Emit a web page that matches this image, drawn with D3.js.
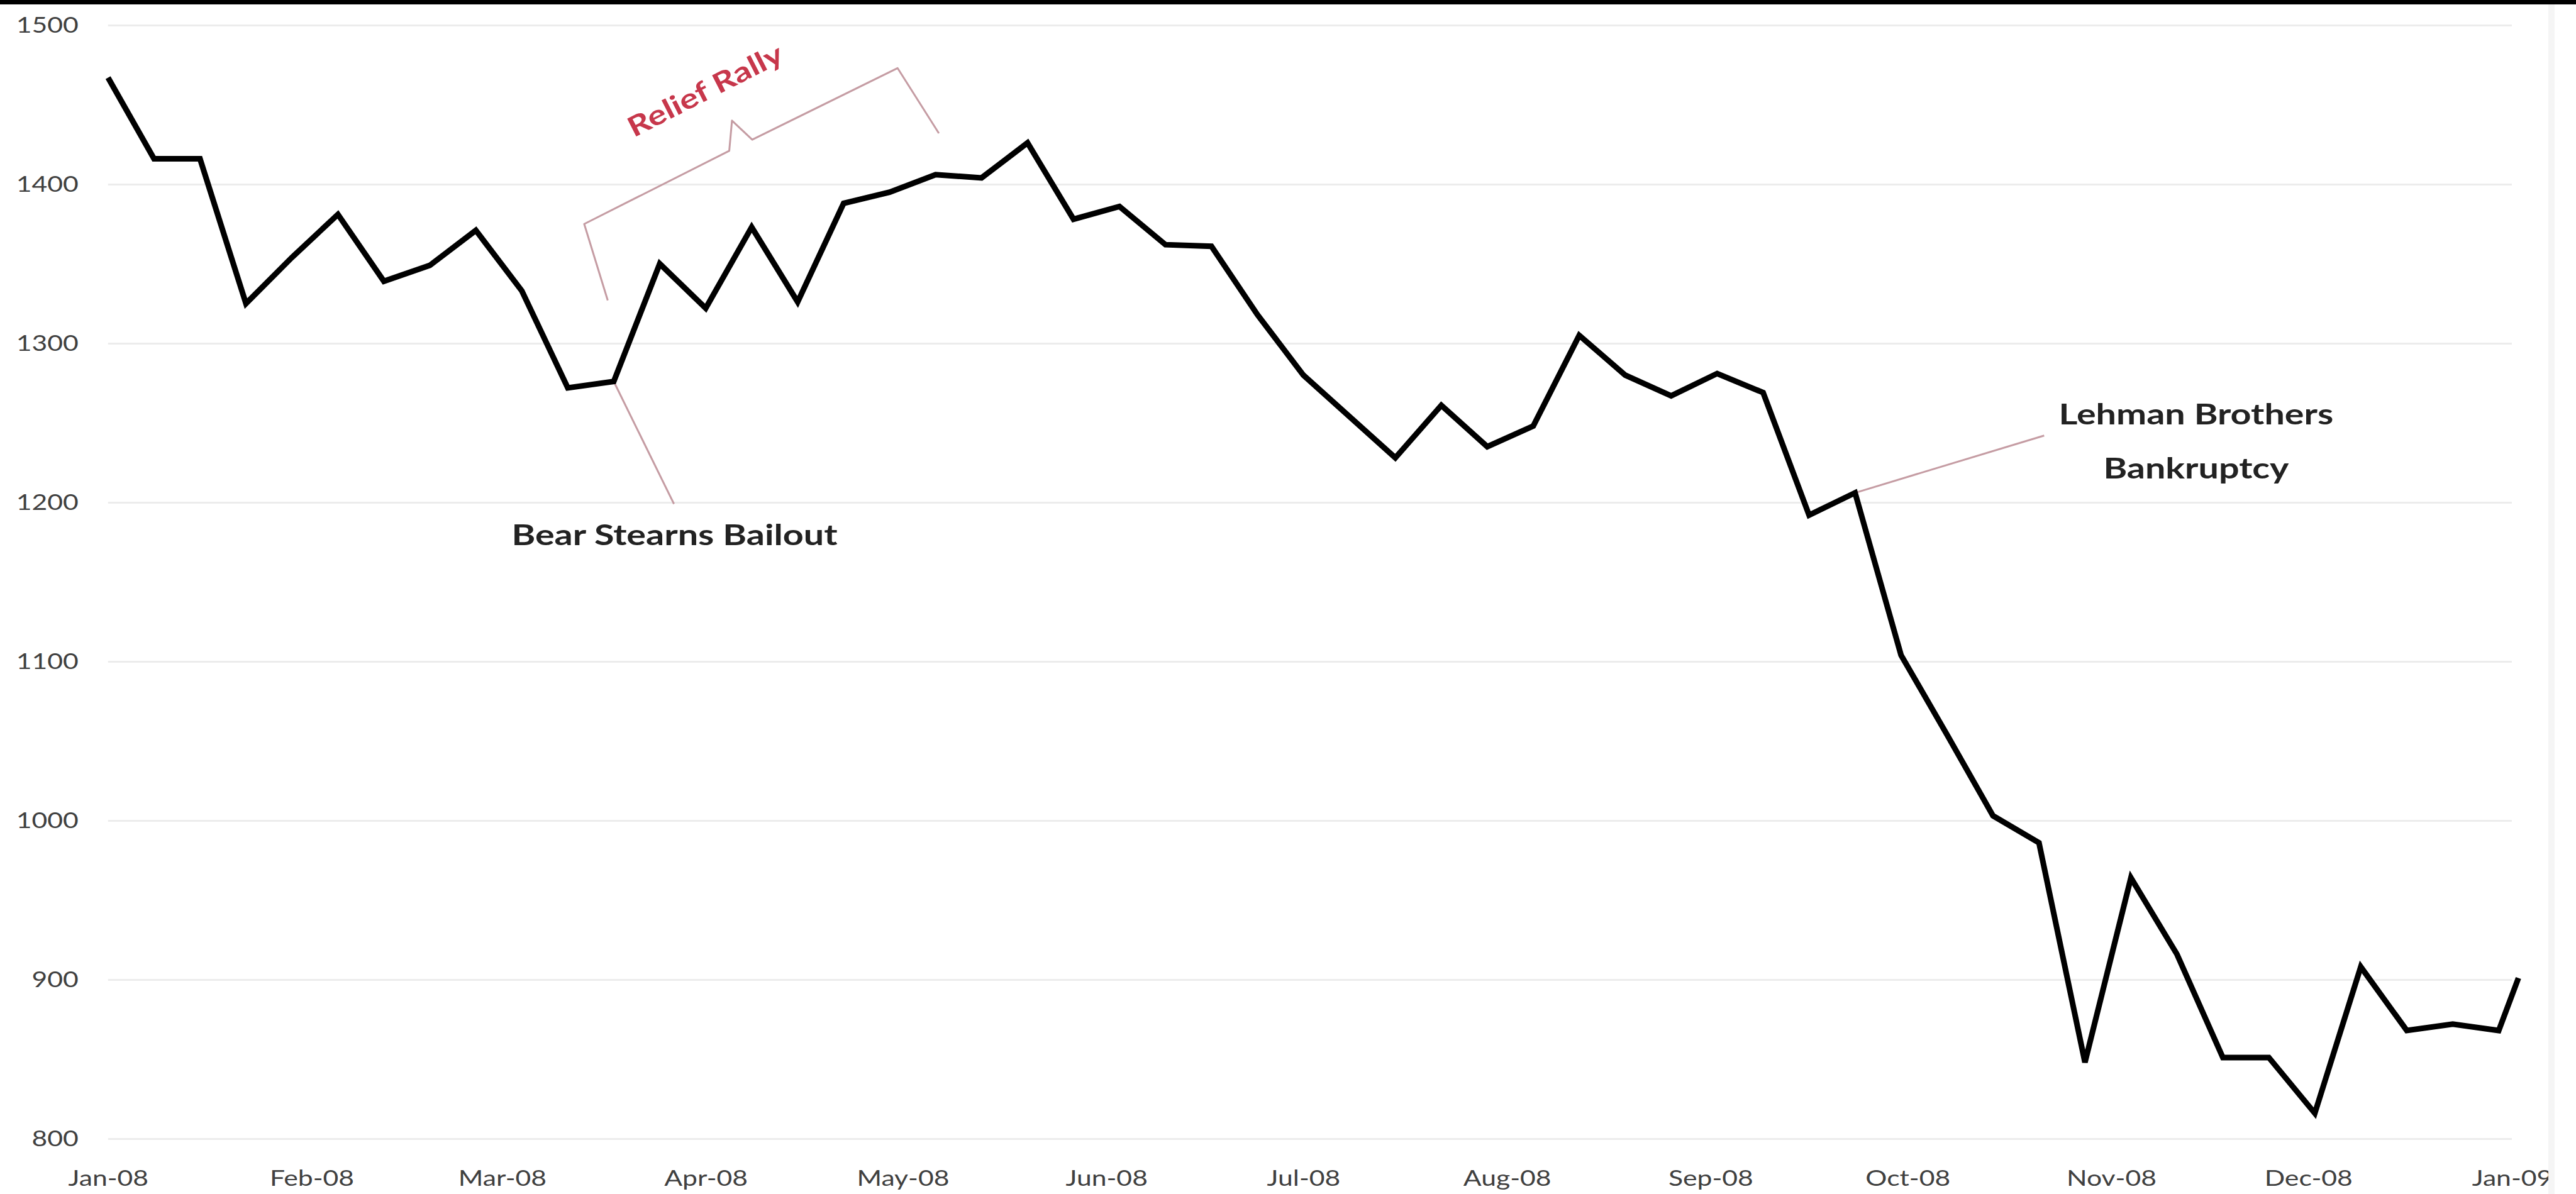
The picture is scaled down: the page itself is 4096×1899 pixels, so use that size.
<!DOCTYPE html>
<html>
<head>
<meta charset="utf-8">
<script src="https://cdn.jsdelivr.net/npm/d3@7"></script>
<style>
  html, body { margin: 0; padding: 0; background: #fff; overflow: hidden; }
  svg { display: block; }
</style>
</head>
<body>
<div id="chart"></div>
<script>
// weekly closes
const weeks = [
  "2008-01-01", "2008-01-08", "2008-01-15", "2008-01-22", "2008-01-29",
  "2008-02-05", "2008-02-12", "2008-02-19", "2008-02-26",
  "2008-03-04", "2008-03-11", "2008-03-18", "2008-03-25",
  "2008-04-01", "2008-04-08", "2008-04-15", "2008-04-22", "2008-04-29",
  "2008-05-06", "2008-05-13", "2008-05-20", "2008-05-27",
  "2008-06-03", "2008-06-10", "2008-06-17", "2008-06-24",
  "2008-07-01", "2008-07-08", "2008-07-15", "2008-07-22", "2008-07-29",
  "2008-08-05", "2008-08-12", "2008-08-19", "2008-08-26",
  "2008-09-02", "2008-09-09", "2008-09-16", "2008-09-23", "2008-09-30",
  "2008-10-07", "2008-10-14", "2008-10-21", "2008-10-28",
  "2008-11-04", "2008-11-11", "2008-11-18", "2008-11-25",
  "2008-12-02", "2008-12-09", "2008-12-16", "2008-12-23", "2008-12-30",
  "2009-01-02"
];
const closes = [
  1467, 1416, 1416, 1325, 1354,
  1381, 1339, 1349, 1371,
  1333, 1272, 1276, 1350,
  1322, 1373, 1326, 1388, 1395,
  1406, 1404, 1426, 1378,
  1386, 1362, 1361, 1318,
  1280, 1254, 1228, 1261, 1235,
  1248, 1305, 1280, 1267,
  1281, 1269, 1192, 1206, 1104,
  1054, 1003, 986, 848,
  964, 916, 851, 851,
  816, 908, 868, 872, 868,
  901
];

const yTicks = [800, 900, 1000, 1100, 1200, 1300, 1400, 1500];
const monthTicks = [
  "2008-01-01", "2008-02-01", "2008-03-01", "2008-04-01", "2008-05-01", "2008-06-01",
  "2008-07-01", "2008-08-01", "2008-09-01", "2008-10-01", "2008-11-01", "2008-12-01",
  "2009-01-01"
];

// annotations, in (date, value) space
const bearLeader = [["2008-03-18T00", 1276], ["2008-03-27T04", 1199]];
const bearLabel = ["2008-03-27T06", 1173, "Bear Stearns Bailout"];
const lehmanLeader = [["2008-09-23T00", 1206], ["2008-10-21T19", 1242]];
const lehmanLabel = ["2008-11-13T22", 1249, 1215, "Lehman Brothers", "Bankruptcy"];
const reliefBrace = [
  ["2008-03-17T02", 1327], ["2008-03-13T12", 1375], ["2008-04-04T14", 1421],
  ["2008-04-05T00", 1440], ["2008-04-08T02", 1428], ["2008-04-30T05", 1473],
  ["2008-05-06T12", 1432]
];
const reliefLabel = ["2008-03-31T22", 1459, "Relief Rally"];

// Set dimensions
const width = 4096;
const height = 1899;

const X_LEFT = 171.8;
const X_RIGHT = 3994;
const Y_TOP = 40;
const Y_BOTTOM = 1811;

const FONT = "Lato, 'Open Sans', 'DejaVu Sans', sans-serif";
const AXIS_STRETCH = 1.22; // the picture's text is stretched sideways
const NOTE_STRETCH = 1.25;
const AXIS_COLOR = "#404040";
const GRID_COLOR = "#ececec";
const NOTE_LINE = "#c59ca3";
const NOTE_RED = "#c7374b";

const parseDay = d3.timeParse("%Y-%m-%d");
const parseHour = d3.timeParse("%Y-%m-%dT%H");
const toDate = (s) => parseDay(s) || parseHour(s);

const series = weeks.map((w, i) => ({ date: toDate(w), value: closes[i] }));

const svg = d3
  .select("#chart")
  .append("svg")
  .attr("width", width)
  .attr("height", height);

svg.append("rect")
  .attr("width", width)
  .attr("height", height)
  .attr("fill", "#fff");

const x = d3
  .scaleTime()
  .domain([toDate("2008-01-01"), toDate("2009-01-01")])
  .range([X_LEFT, X_RIGHT]);

const y = d3
  .scaleLinear()
  .domain([800, 1500])
  .range([Y_BOTTOM, Y_TOP]);

const px = (p) => [x(toDate(p[0])), y(p[1])];

// gridlines
svg.append("g")
  .attr("class", "grid")
  .attr("transform", `translate(${X_LEFT},0)`)
  .call(d3.axisLeft(y).tickValues(yTicks).tickSize(-(X_RIGHT - X_LEFT)).tickFormat(""))
  .call((g) => g.select(".domain").remove())
  .call((g) => g.selectAll("line").attr("stroke", GRID_COLOR).attr("stroke-width", 3));

// y labels
svg.append("g")
  .attr("transform", `translate(${X_LEFT},0)`)
  .call(d3.axisLeft(y).tickValues(yTicks).tickSize(0).tickPadding(47 / AXIS_STRETCH).tickFormat(d3.format("d")))
  .call((g) => g.select(".domain").remove())
  .call((g) => g.selectAll("text")
    .attr("font-family", FONT)
    .attr("font-size", 35)
    .attr("fill", AXIS_COLOR)
    .attr("transform", `scale(${AXIS_STRETCH},1)`));

// x labels
svg.append("g")
  .attr("transform", `translate(0,${Y_BOTTOM})`)
  .call(d3.axisBottom(x).tickValues(monthTicks.map(toDate)).tickSize(0).tickPadding(50).tickFormat(d3.timeFormat("%b-%y")))
  .call((g) => g.select(".domain").remove())
  .call((g) => g.selectAll("text")
    .attr("font-family", FONT)
    .attr("font-size", 35)
    .attr("fill", AXIS_COLOR)
    .attr("transform", `scale(${AXIS_STRETCH},1)`));

// faint frame edge on the right
svg.append("rect")
  .attr("x", X_RIGHT + 58)
  .attr("y", 7)
  .attr("width", 10)
  .attr("height", height - 7)
  .attr("fill", "#f5f5f5");

// top black strip
svg.append("rect")
  .attr("x", 0)
  .attr("y", 0)
  .attr("width", width)
  .attr("height", 7)
  .attr("fill", "#000");

// annotation lines (drawn under the series)
const noteLine = d3.line().x((p) => px(p)[0]).y((p) => px(p)[1]);

[bearLeader, lehmanLeader, reliefBrace].forEach((pts) => {
  svg.append("path")
    .attr("d", noteLine(pts))
    .attr("fill", "none")
    .attr("stroke", NOTE_LINE)
    .attr("stroke-width", 3)
    .attr("stroke-linejoin", "round");
});

// the series
const line = d3.line()
  .x((d) => x(d.date))
  .y((d) => y(d.value));

svg.append("path")
  .datum(series)
  .attr("d", line)
  .attr("fill", "none")
  .attr("stroke", "#000")
  .attr("stroke-width", 9)
  .attr("stroke-linejoin", "miter");

// annotation texts
function note(xp, yp, txt, color, size, angle, dy) {
  svg.append("text")
    .attr("transform", `translate(${xp},${yp}) rotate(${angle || 0}) scale(${NOTE_STRETCH},1)`)
    .attr("text-anchor", "middle")
    .attr("dy", dy || 0)
    .attr("font-family", FONT)
    .attr("font-weight", "bold")
    .attr("font-size", size)
    .attr("fill", color)
    .text(txt);
}

note(...px(bearLabel), bearLabel[2], "#222", 46);
note(x(toDate(lehmanLabel[0])), y(lehmanLabel[1]), lehmanLabel[3], "#222", 46);
note(x(toDate(lehmanLabel[0])), y(lehmanLabel[2]), lehmanLabel[4], "#222", 46);

// red label is centred on its anchor
note(...px(reliefLabel), reliefLabel[2], NOTE_RED, 44, -27, "0.35em");
</script>
</body>
</html>
